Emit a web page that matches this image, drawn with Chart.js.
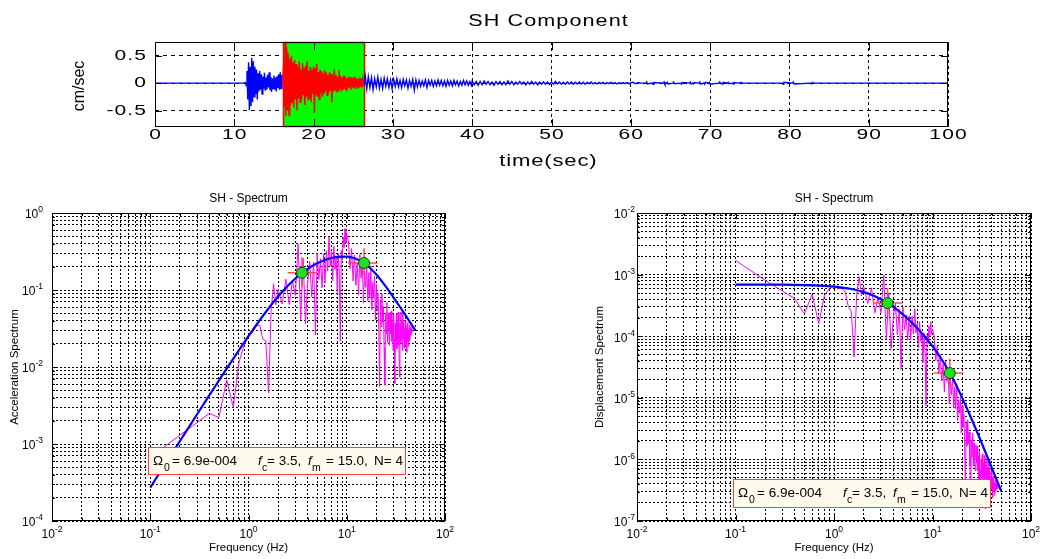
<!DOCTYPE html>
<html>
<head>
<meta charset="utf-8">
<script src="https://cdn.jsdelivr.net/npm/chart.js@4.4.0/dist/chart.umd.min.js"></script>
<style>
  html, body { margin: 0; padding: 0; background: #fff; }
  #wrap { position: relative; width: 1040px; height: 559px; overflow: hidden; }
  .pane { position: absolute; }
</style>
</head>
<body>
<div id="wrap">
  <div class="pane" style="left:0;top:0;width:1040px;height:180px"><canvas id="traceChart"></canvas></div>
  <div class="pane" style="left:0;top:180px;width:520px;height:379px"><canvas id="accChart"></canvas></div>
  <div class="pane" style="left:520px;top:180px;width:520px;height:379px"><canvas id="dispChart"></canvas></div>
</div>
<script>
// ---- SH component velocity trace ----
const timeTicks = [0, 10, 20, 30, 40, 50, 60, 70, 80, 90, 100];
const velTicks = [-0.5, 0, 0.5];
const velLimits = [-0.8, 0.75];
const windowRange = [16.1, 26.3];

const quietTime = [0, 11.2];
const quietVel = [0, 0];

const burstStart = 11.3, burstStep = 0.1;
const burstVel = [0, 0.01, -0.05, 0.22, -0.3, 0.38, -0.49, 0.3, -0.42, 0.46, -0.35, 0.4, -0.25, 0.3, -0.2, 0.25,
  -0.3, 0.18, -0.15, 0.22, -0.12, 0.16, -0.2, 0.12, -0.1, 0.19, -0.14, 0.1, -0.12, 0.15, -0.08, 0.2, -0.13, 0.11,
  -0.16, 0.09, -0.1, 0.14, -0.12, 0.1, -0.15, 0.13, -0.09, 0.16, -0.12, 0.2, -0.1, 0.15, -0.05];

const windowStart = 16.1, windowStep = 0.1;
const windowVel = [-0.05, 0.3, -0.45, 0.74, -0.6, 0.65, -0.5, 0.55, -0.58, 0.45, -0.4, 0.5, -0.35, 0.38, -0.45,
  0.42, -0.3, 0.35, -0.5, 0.3, -0.28, 0.4, -0.35, 0.25, -0.3, 0.36, -0.22, 0.28, -0.4, 0.32, -0.25, 0.4, -0.3,
  0.22, -0.28, 0.3, -0.35, 0.25, -0.2, 0.3, -0.54, 0.28, -0.22, 0.35, -0.25, 0.2, -0.3, 0.25, -0.18, 0.22, -0.25,
  0.18, -0.2, 0.24, -0.15, 0.2, -0.22, 0.15, -0.18, 0.2, -0.14, 0.17, -0.35, 0.14, -0.15, 0.25, -0.12, 0.15,
  -0.17, 0.12, -0.14, 0.24, -0.1, 0.13, -0.15, 0.1, -0.12, 0.14, -0.1, 0.12, -0.13, 0.09, -0.1, 0.12, -0.08, 0.1,
  -0.12, 0.11, -0.08, 0.1, -0.09, 0.12, -0.07, 0.09, -0.1, 0.08, -0.09, 0.1, -0.07, 0.09, -0.08, 0.07, -0.05];

const codaStart = 26.3, codaStep = 0.2;
const codaVel = [-0.05, 0.14, -0.1, 0.12, -0.08, 0.1, -0.12, 0.08, -0.07, 0.11, -0.09, 0.07, -0.1, 0.09, -0.06,
  0.08, -0.08, 0.06, -0.1, 0.07, -0.06, 0.08, -0.07, 0.05, -0.08, 0.07, -0.05, 0.06, -0.09, 0.05, -0.06, 0.07,
  -0.13, 0.06, -0.07, 0.05, -0.06, 0.04, -0.05, 0.06, -0.08, 0.05, -0.04, 0.05, -0.06, 0.04, -0.05, 0.06, -0.04,
  0.05, -0.05, 0.04, -0.06, 0.05, -0.04, 0.04, -0.05, 0.05, -0.03, 0.04, -0.05, 0.03, -0.04, 0.05, -0.03, 0.04,
  -0.04, 0.03, -0.04];

const lateStart = 40, lateStep = 0.25;
const lateVel = [0.04, -0.03, 0.03, -0.04, 0.03, -0.03, 0.04, -0.02, 0.03, -0.03, 0.02, -0.04, 0.03, -0.02, 0.03,
  -0.03, 0.02, -0.03, 0.04, -0.02, 0.03, -0.03, 0.02, -0.02, 0.03, -0.02, 0.02, -0.03, 0.02, -0.02, 0.03, -0.02,
  0.02, -0.03, 0.02, -0.02, 0.025, -0.02, 0.02, -0.025, 0.02, -0.02, 0.03, -0.015, 0.02, -0.02, 0.015, -0.02,
  0.02, -0.015, 0.02, -0.02, 0.015, -0.015, 0.02, -0.015, 0.015, -0.02, 0.015, -0.01, 0.02, -0.015, 0.01, -0.015,
  0.015, -0.01, 0.015, -0.015, 0.01, -0.01, 0.015, -0.01, 0.01, -0.015, 0.01, -0.01, 0.01, -0.01, 0.01, -0.01, 0.01];

const tailTime = [60.3, 60.6, 60.9, 61.2, 61.9, 62.0, 62.1, 62.7, 62.8, 62.9, 64.1, 64.2, 64.3, 64.5, 64.6, 64.7,
  65.3, 65.4, 65.5, 66.3, 66.4, 66.5, 67.4, 67.5, 67.6, 67.8, 67.9, 68.0, 68.6, 68.7, 68.8, 69.2, 69.3, 69.4,
  69.8, 69.9, 70.0, 71.1, 71.2, 71.3, 71.5, 71.6, 71.7, 72.2, 72.3, 72.4, 72.8, 72.9, 73.0, 73.8, 73.9, 74.0,
  79.1, 79.2, 79.3, 80.4, 80.5, 80.6, 82.7, 82.8, 82.9, 83.0, 100];
const tailVel = [0.015, -0.012, 0.01, 0, 0, 0.02, -0.015, 0, -0.02, 0.012, 0, 0.02, -0.02, 0, 0.015, -0.015,
  0, 0.02, -0.01, 0, -0.02, 0.01, 0, 0.02, -0.015, 0, -0.015, 0.01, 0, 0.02, -0.02, 0, -0.02, 0.015,
  0, 0.015, -0.02, 0, 0.02, -0.01, 0, -0.02, 0.015, 0, 0.015, -0.01, 0, -0.015, 0.01, 0, 0.015, 0,
  0, -0.02, 0.015, 0, 0.02, -0.015, 0, -0.015, 0.01, 0, 0];

// ---- SH spectra ----
const specFreq = [0.1, 0.2, 0.3, 0.4, 0.5, 0.6, 0.7, 0.8, 0.9, 1.0, 1.1, 1.2, 1.3, 1.4, 1.5, 1.6, 1.7, 1.8, 1.9, 2.0,
  2.2, 2.4, 2.6, 2.8, 3.0, 3.2, 3.4, 3.6, 3.8, 4.0, 4.2, 4.4, 4.6, 4.8, 5.0, 5.2, 5.4, 5.6, 5.8, 6.0,
  6.2, 6.4, 6.6, 6.8, 7.0, 7.2, 7.4, 7.6, 7.8, 8.0, 8.2, 8.4, 8.6, 8.8, 9.0, 9.2, 9.4, 9.6, 9.8, 10.0,
  10.4, 10.8, 11.2, 11.6, 12.0, 12.4, 12.8, 13.2, 13.6, 14.0, 14.4, 14.8, 15.2, 15.6, 16.0, 16.4, 16.8, 17.2,
  17.6, 18.0, 18.4, 18.8, 19.2, 19.6, 20.0, 20.4, 20.8, 21.2, 21.6, 22.0, 22.4, 22.8, 23.2, 23.6, 24.0, 24.4,
  24.8, 25.2, 25.6, 26.0, 26.4, 26.8, 27.2, 27.6, 28.0, 28.4, 28.8, 29.2, 29.6, 30.0, 30.4, 30.8, 31.2, 31.6,
  32.0, 32.4, 32.8, 33.2, 33.6, 34.0, 34.4, 34.8, 35.2, 35.6, 36.0, 36.4, 36.8, 37.2, 37.6, 38.0, 38.4, 38.8,
  39.2, 39.6, 40.0, 40.4, 40.8, 41.2, 41.6, 42.0, 42.4, 42.8, 43.2, 43.6, 44.0, 44.4, 44.8, 45.2, 45.6, 46.0];

const accSpec = [6.7e-4, 1.3e-3, 1.9e-3, 2.5e-3, 2.2e-3, 6.8e-3, 3.0e-3, 1.15e-2, 1.9e-2, 2.6e-2, 2.8e-2, 3.4e-2,
  3.5e-2, 2.3e-2, 2.2e-2, 4.6e-3, 5.5e-2, 0.12, 6.4e-2, 0.103,
  0.066, 0.138, 0.065, 0.13, 0.085, 0.395, 0.041, 0.257, 0.036, 0.123, 0.235, 0.081, 0.231, 0.026, 0.30, 0.137,
  0.256, 0.107, 0.29, 0.123, 0.324, 0.176, 0.485, 0.206, 0.313, 0.132, 0.371, 0.186, 0.268, 0.094, 0.297, 0.163,
  0.0217, 0.326, 0.245, 0.49, 0.354, 0.626, 0.408, 0.517,
  0.432, 0.188, 0.345, 0.131, 0.285, 0.115, 0.226, 0.0863, 0.290, 0.142, 0.220, 0.068, 0.177, 0.108, 0.210,
  0.0717, 0.169, 0.0776, 0.208, 0.055, 0.125, 0.078, 0.151, 0.041, 0.119, 0.054, 0.090, 0.029, 0.0056, 0.0755,
  0.0333, 0.0907, 0.0378, 0.0612, 0.0178, 0.0058, 0.0506, 0.0273, 0.0691, 0.0207, 0.0504, 0.0294, 0.0191, 0.0511,
  0.0272, 0.053, 0.0215, 0.0378, 0.0164, 0.0479, 0.0234, 0.0061, 0.0371, 0.0218, 0.0496, 0.0173, 0.0371, 0.0231,
  0.0516, 0.0189, 0.0074, 0.0362, 0.0207, 0.052, 0.0226, 0.0388, 0.0163, 0.0531, 0.0234, 0.0407, 0.0175, 0.0318,
  0.0192, 0.040, 0.0207, 0.0316, 0.0155, 0.0348, 0.0214, 0.0377, 0.0185, 0.0303, 0.0218, 0.0351, 0.023, 0.032,
  0.0259, 0.0327, 0.0268, 0.0281];

const dispSpec = [1.7e-3, 8.1e-4, 5.4e-4, 4.07e-4, 2.3e-4, 4.8e-4, 1.6e-4, 4.6e-4, 6.0e-4, 6.7e-4, 5.9e-4, 6.0e-4,
  5.2e-4, 3.0e-4, 2.5e-4, 4.6e-5, 4.8e-4, 9.3e-4, 4.5e-4, 6.5e-4,
  3.4e-4, 6.1e-4, 2.4e-4, 4.2e-4, 2.4e-4, 9.8e-4, 8.9e-5, 5.0e-4, 6.3e-5, 1.94e-4, 3.4e-4, 1.06e-4, 2.76e-4,
  2.9e-5, 3.0e-4, 1.28e-4, 2.22e-4, 8.6e-5, 2.18e-4, 8.7e-5, 2.13e-4, 1.09e-4, 2.81e-4, 1.13e-4, 1.62e-4, 6.4e-5,
  1.72e-4, 8.2e-5, 1.12e-4, 3.7e-5, 1.12e-4, 5.8e-5, 7.4e-6, 1.07e-4, 7.7e-5, 1.47e-4, 1.01e-4, 1.72e-4, 1.08e-4,
  1.31e-4,
  1.01e-4, 4.07e-5, 6.97e-5, 2.47e-5, 5.02e-5, 1.89e-5, 3.49e-5, 1.25e-5, 3.97e-5, 1.84e-5, 2.69e-5, 7.9e-6,
  1.94e-5, 1.13e-5, 2.08e-5, 6.8e-6, 1.52e-5, 6.6e-6, 1.69e-5, 4.3e-6, 9.3e-6, 5.6e-6, 1.04e-5, 2.7e-6, 7.5e-6,
  3.3e-6, 5.3e-6, 1.64e-6, 3.1e-7, 3.9e-6, 1.68e-6, 4.4e-6, 1.78e-6, 2.78e-6, 7.8e-7, 2.5e-7, 2.08e-6, 1.09e-6,
  2.67e-6, 7.8e-7, 1.83e-6, 1.04e-6, 6.5e-7, 1.70e-6, 8.8e-7, 1.66e-6, 6.6e-7, 1.12e-6, 4.7e-7, 1.35e-6, 6.4e-7,
  1.62e-7, 9.7e-7, 5.5e-7, 1.23e-6, 4.2e-7, 8.7e-7, 5.3e-7, 1.16e-6, 4.1e-7, 1.58e-7, 7.6e-7, 4.2e-7, 1.04e-6,
  4.4e-7, 7.4e-7, 3.0e-7, 9.7e-7, 4.2e-7, 7.1e-7, 3.0e-7, 5.3e-7, 3.2e-7, 6.5e-7, 3.3e-7, 4.9e-7, 2.4e-7, 5.2e-7,
  3.1e-7, 5.4e-7, 2.6e-7, 4.2e-7, 3.0e-7, 4.7e-7, 3.0e-7, 4.1e-7, 3.3e-7, 4.1e-7, 3.3e-7, 3.4e-7];

// fitted source model curve
const modelFreq = [0.1, 0.15, 0.2, 0.3, 0.4, 0.5, 0.7, 1, 1.5, 2, 2.5, 3, 3.5, 4, 5, 6, 7, 8, 10, 12, 15, 18, 20,
  25, 30, 35, 40, 45, 50];
const modelAcc = [2.72e-4, 6.12e-4, 1.086e-3, 2.434e-3, 4.302e-3, 6.674e-3, 1.2835e-2, 2.518e-2, 5.178e-2,
  8.213e-2, 0.1127, 0.1412, 0.1666, 0.1885, 0.2226, 0.2459, 0.2608, 0.2693, 0.2717, 0.2590, 0.2238, 0.1834,
  0.1587, 0.1109, 0.0798, 0.0597, 0.0461, 0.0366, 0.0298];
const modelDisp = [6.894e-4, 6.887e-4, 6.878e-4, 6.850e-4, 6.811e-4, 6.762e-4, 6.635e-4, 6.379e-4, 5.829e-4,
  5.201e-4, 4.567e-4, 3.975e-4, 3.445e-4, 2.985e-4, 2.255e-4, 1.730e-4, 1.348e-4, 1.066e-4, 6.881e-5, 4.556e-5,
  2.519e-5, 1.434e-5, 1.005e-5, 4.493e-6, 2.247e-6, 1.234e-6, 7.30e-7, 4.582e-7, 3.016e-7];

// corner (fc) and fmax markers with their ranges
const markFreq = [3.5, 15.0];
const markFreqLo = [2.5, 10.3];
const markFreqHi = [4.9, 20.6];
const accMarkVal = [0.167, 0.224];
const accMarkLo = [0.109, 0.155];
const accMarkHi = [0.268, 0.348];
const dispMarkVal = [3.45e-4, 2.52e-5];
const dispMarkLo = [2.05e-4, 1.48e-5];
const dispMarkHi = [6.0e-4, 4.3e-5];

const omegaText = '6.9e-004';
const fcText = '3.5';
const fmText = '15.0';
const nText = '4';

const minorSteps = [1, 2, 3, 4, 5, 6, 7, 8, 9];

const FONT = '"Liberation Sans", Arial, sans-serif';

// wide MATLAB-ish text: horizontal stretch plus a little letter spacing
function wideText(ctx, text, x, y, size, sx, spacing, align) {
  ctx.save();
  ctx.font = size + 'px ' + FONT;
  ctx.textAlign = 'left';
  ctx.textBaseline = 'middle';
  let w = 0;
  for (const ch of text) w += ctx.measureText(ch).width;
  w = (w + spacing * (text.length - 1)) * sx;
  let left = x;
  if (align === 'center') left = x - w / 2;
  if (align === 'right') left = x - w;
  ctx.translate(left, y);
  ctx.scale(sx, 1);
  let cx = 0;
  for (const ch of text) {
    ctx.fillText(ch, cx, 0);
    cx += ctx.measureText(ch).width + spacing;
  }
  ctx.restore();
}

function series(start, step, vals) {
  return vals.map((v, i) => ({ x: +(start + i * step).toFixed(3), y: v }));
}

const blueTrace = [
  ...quietTime.map((t, i) => ({ x: t, y: quietVel[i] })),
  ...series(burstStart, burstStep, burstVel),
  { x: 16.2, y: null },
  ...series(codaStart, codaStep, codaVel),
  ...series(lateStart, lateStep, lateVel),
  ...tailTime.map((t, i) => ({ x: t, y: tailVel[i] }))
];
const redTrace = series(windowStart, windowStep, windowVel);

const traceDecor = {
  id: 'traceDecor',
  beforeDatasetsDraw(chart) {
    const { ctx, chartArea: a, scales: { x } } = chart;
    const x0 = Math.round(x.getPixelForValue(windowRange[0]));
    const x1 = Math.round(x.getPixelForValue(windowRange[1]));
    ctx.save();
    ctx.fillStyle = '#00ff00';
    ctx.fillRect(x0, a.top, x1 - x0, a.bottom - a.top);
    ctx.strokeStyle = '#ff0000';
    ctx.lineWidth = 1.5;
    ctx.strokeRect(x0 + 0.5, a.top + 0.5, x1 - x0, a.bottom - a.top - 1);
    ctx.restore();
  },
  afterDraw(chart) {
    const { ctx, chartArea: a, scales: { x, y } } = chart;
    ctx.save();
    ctx.strokeStyle = '#000';
    ctx.lineWidth = 1;
    ctx.strokeRect(a.left + 0.5, a.top + 0.5, a.right - a.left - 1, a.bottom - a.top - 1);
    ctx.beginPath();
    timeTicks.forEach(t => {
      const px = Math.round(x.getPixelForValue(t)) + 0.5;
      ctx.moveTo(px, a.bottom); ctx.lineTo(px, a.bottom - 8);
      ctx.moveTo(px, a.top); ctx.lineTo(px, a.top + 8);
    });
    velTicks.forEach(v => {
      const py = Math.round(y.getPixelForValue(v)) + 0.5;
      ctx.moveTo(a.left, py); ctx.lineTo(a.left + 7, py);
      ctx.moveTo(a.right, py); ctx.lineTo(a.right - 7, py);
    });
    ctx.stroke();
    ctx.fillStyle = '#000';
    timeTicks.forEach(t => wideText(ctx, String(t), x.getPixelForValue(t), a.bottom + 8, 15, 1.4, 0.8, 'center'));
    velTicks.forEach(v => wideText(ctx, String(v), a.left - 9, y.getPixelForValue(v), 15, 1.4, 0.8, 'right'));
    wideText(ctx, 'SH Component', 548, 22, 16, 1.35, 0.8, 'center');
    wideText(ctx, 'time(sec)', 548, 162, 16, 1.38, 0.6, 'center');
    ctx.translate(80, 86);
    ctx.rotate(-Math.PI / 2);
    ctx.font = '16px ' + FONT;
    ctx.textAlign = 'center';
    ctx.textBaseline = 'middle';
    ctx.fillText('cm/sec', 0, 0);
    ctx.restore();
  }
};

new Chart(document.getElementById('traceChart'), {
  type: 'line',
  data: {
    datasets: [
      { data: redTrace, borderColor: '#ff0000', borderWidth: 1.5, pointRadius: 0, tension: 0 },
      { data: blueTrace, borderColor: '#0000ff', borderWidth: 1.4, pointRadius: 0, tension: 0 }
    ]
  },
  options: {
    responsive: true,
    maintainAspectRatio: false,
    animation: false,
    devicePixelRatio: 1,
    events: [],
    layout: { padding: { left: 0, top: 42, right: 92, bottom: 0 } },
    plugins: { legend: { display: false }, tooltip: { enabled: false } },
    scales: {
      x: {
        type: 'linear', min: 0, max: 100,
        afterBuildTicks: s => { s.ticks = timeTicks.map(v => ({ value: v })); },
        afterFit: s => { s.height = 53; },
        ticks: { display: false },
        grid: { color: '#000', lineWidth: 1, drawTicks: false },
        border: { display: false, dash: [3, 3] }
      },
      y: {
        type: 'linear', min: velLimits[0], max: velLimits[1],
        afterBuildTicks: s => { s.ticks = velTicks.map(v => ({ value: v })); },
        afterFit: s => { s.width = 155; },
        ticks: { display: false },
        grid: { color: '#000', lineWidth: 1, drawTicks: false },
        border: { display: false, dash: [4, 4] }
      }
    }
  },
  plugins: [traceDecor]
});

// ---- spectra ----
function logTicks(minExp, maxExp) {
  const out = [];
  for (let e = minExp; e < maxExp; e++) {
    minorSteps.forEach(m => out.push({ value: m * Math.pow(10, e) }));
  }
  out.push({ value: Math.pow(10, maxExp) });
  return out;
}
function isDecade(v) {
  const l = Math.log10(v);
  return Math.abs(l - Math.round(l)) < 1e-9;
}
function powerLabel(ctx, e, x, y, align) {
  ctx.font = '12px ' + FONT;
  const wb = ctx.measureText('10').width;
  ctx.font = '8.5px ' + FONT;
  const ws = ctx.measureText(String(e)).width;
  const left = align === 'center' ? x - (wb + ws) / 2 : x - (wb + ws);
  ctx.textAlign = 'left';
  ctx.textBaseline = 'middle';
  ctx.font = '12px ' + FONT;
  ctx.fillText('10', left, y);
  ctx.font = '8.5px ' + FONT;
  ctx.fillText(String(e), left + wb, y - 5);
}

function spectrumDecor(cfg) {
  return {
    id: 'specDecor',
    afterDraw(chart) {
      const { ctx, chartArea: a, scales: { x, y } } = chart;
      ctx.save();
      ctx.strokeStyle = '#000';
      ctx.lineWidth = 1;
      ctx.beginPath();
      x.ticks.forEach(t => {
        const len = isDecade(t.value) ? 6 : 3;
        const px = Math.round(x.getPixelForValue(t.value)) + 0.5;
        ctx.moveTo(px, a.bottom); ctx.lineTo(px, a.bottom - len);
        ctx.moveTo(px, a.top); ctx.lineTo(px, a.top + len);
      });
      y.ticks.forEach(t => {
        const len = isDecade(t.value) ? 6 : 3;
        const py = Math.round(y.getPixelForValue(t.value)) + 0.5;
        ctx.moveTo(a.left, py); ctx.lineTo(a.left + len, py);
        ctx.moveTo(a.right, py); ctx.lineTo(a.right - len, py);
      });
      ctx.stroke();
      ctx.strokeRect(a.left + 0.5, a.top + 0.5, a.right - a.left - 1, a.bottom - a.top - 1);

      ctx.fillStyle = '#000';
      for (let e = Math.round(Math.log10(x.min)); e <= Math.round(Math.log10(x.max)); e++) {
        powerLabel(ctx, e, x.getPixelForValue(Math.pow(10, e)), a.bottom + 14, 'center');
      }
      for (let e = Math.round(Math.log10(y.min)); e <= Math.round(Math.log10(y.max)); e++) {
        powerLabel(ctx, e, cfg.yLabelRight, y.getPixelForValue(Math.pow(10, e)) + 2, 'right');
      }
      const cx = (a.left + a.right) / 2;
      ctx.textAlign = 'center';
      ctx.textBaseline = 'middle';
      ctx.font = '12px ' + FONT;
      ctx.fillText('SH - Spectrum', cx, 19);
      ctx.font = '11.5px ' + FONT;
      ctx.fillText('Frequency (Hz)', cx, 368);
      ctx.save();
      ctx.translate(cfg.yTitleX, (a.top + a.bottom) / 2);
      ctx.rotate(-Math.PI / 2);
      ctx.fillText(cfg.yTitle, 0, 0);
      ctx.restore();

      // parameter box
      const b = cfg.box;
      ctx.fillStyle = '#fffaee';
      ctx.fillRect(b.x, b.y, b.w, b.h);
      ctx.strokeStyle = '#ff4040';
      ctx.strokeRect(b.x + 0.5, b.y + 0.5, b.w, b.h);
      ctx.fillStyle = '#000';
      ctx.textAlign = 'left';
      ctx.textBaseline = 'alphabetic';
      const base = b.y + 17.5;
      const sub = b.y + 24;
      const put = (txt, dx, yy, style, size) => {
        ctx.font = (style || '') + ' ' + size + 'px ' + FONT;
        ctx.fillText(txt, b.x + dx, yy);
      };
      put('\u03A9', 5, base, '', 13.5);
      put('0', 16, sub, '', 10.5);
      put('= ' + omegaText, 24, base, '', 13.5);
      put('f', 110, base, 'italic', 13.5);
      put('c', 114, sub, '', 10.5);
      put('= ' + fcText + ',', 119, base, '', 13.5);
      put('f', 160, base, 'italic', 13.5);
      put('m', 164, sub, '', 10.5);
      put('= ' + fmText + ',', 178, base, '', 13.5);
      put('N= ' + nText, 226, base, '', 13.5);
      ctx.restore();
    }
  };
}

function crossData(lo, hi, val) {
  const out = [];
  markFreq.forEach((f, i) => {
    out.push({ x: markFreqLo[i], y: val[i] }, { x: markFreqHi[i], y: val[i] }, { x: f, y: null });
    out.push({ x: f, y: lo[i] }, { x: f, y: hi[i] }, { x: f, y: null });
  });
  return out;
}

function spectrumChart(canvasId, values, model, markVal, markLo, markHi, yMin, yMax, axisW, padRight, decor) {
  return new Chart(document.getElementById(canvasId), {
    type: 'line',
    data: {
      datasets: [
        {
          data: markFreq.map((f, i) => ({ x: f, y: markVal[i] })),
          showLine: false, pointRadius: 5.5, pointBackgroundColor: '#22dd22',
          pointBorderColor: '#005500', pointBorderWidth: 1
        },
        {
          data: crossData(markLo, markHi, markVal),
          borderColor: 'rgba(255,60,60,0.9)', borderWidth: 1.5, pointRadius: 0, spanGaps: false
        },
        {
          data: modelFreq.map((f, i) => ({ x: f, y: model[i] })),
          borderColor: '#0000ff', borderWidth: 2.2, pointRadius: 0, cubicInterpolationMode: 'monotone'
        },
        {
          data: specFreq.map((f, i) => ({ x: f, y: values[i] })),
          borderColor: '#ff00ff', borderWidth: 1, pointRadius: 0, tension: 0
        }
      ]
    },
    options: {
      responsive: true,
      maintainAspectRatio: false,
      animation: false,
      devicePixelRatio: 1,
      events: [],
      layout: { padding: { left: 0, top: 33, right: padRight, bottom: 0 } },
      plugins: { legend: { display: false }, tooltip: { enabled: false } },
      scales: {
        x: {
          type: 'logarithmic', min: 0.01, max: 100,
          afterBuildTicks: s => { s.ticks = logTicks(-2, 2); },
          afterFit: s => { s.height = 38; },
          ticks: { display: false },
          grid: { color: '#000', lineWidth: 1, drawTicks: false },
          border: { display: false, dash: [2, 2] }
        },
        y: {
          type: 'logarithmic', min: yMin, max: yMax,
          afterBuildTicks: s => { s.ticks = logTicks(Math.round(Math.log10(yMin)), Math.round(Math.log10(yMax))); },
          afterFit: s => { s.width = axisW; },
          ticks: { display: false },
          grid: { color: '#000', lineWidth: 1, drawTicks: false },
          border: { display: false, dash: [2, 2] }
        }
      }
    },
    plugins: [decor]
  });
}

spectrumChart('accChart', accSpec, modelAcc, accMarkVal, accMarkLo, accMarkHi, 1e-4, 1, 52, 75,
  spectrumDecor({ yTitle: 'Acceleration Spectrum', yTitleX: 15, yLabelRight: 43,
                  box: { x: 148, y: 267, w: 257, h: 27 } }));
spectrumChart('dispChart', dispSpec, modelDisp, dispMarkVal, dispMarkLo, dispMarkHi, 1e-7, 1e-2, 117, 9,
  spectrumDecor({ yTitle: 'Displacement Spectrum', yTitleX: 80, yLabelRight: 115,
                  box: { x: 213, y: 299, w: 257, h: 28 } }));
</script>
</body>
</html>
